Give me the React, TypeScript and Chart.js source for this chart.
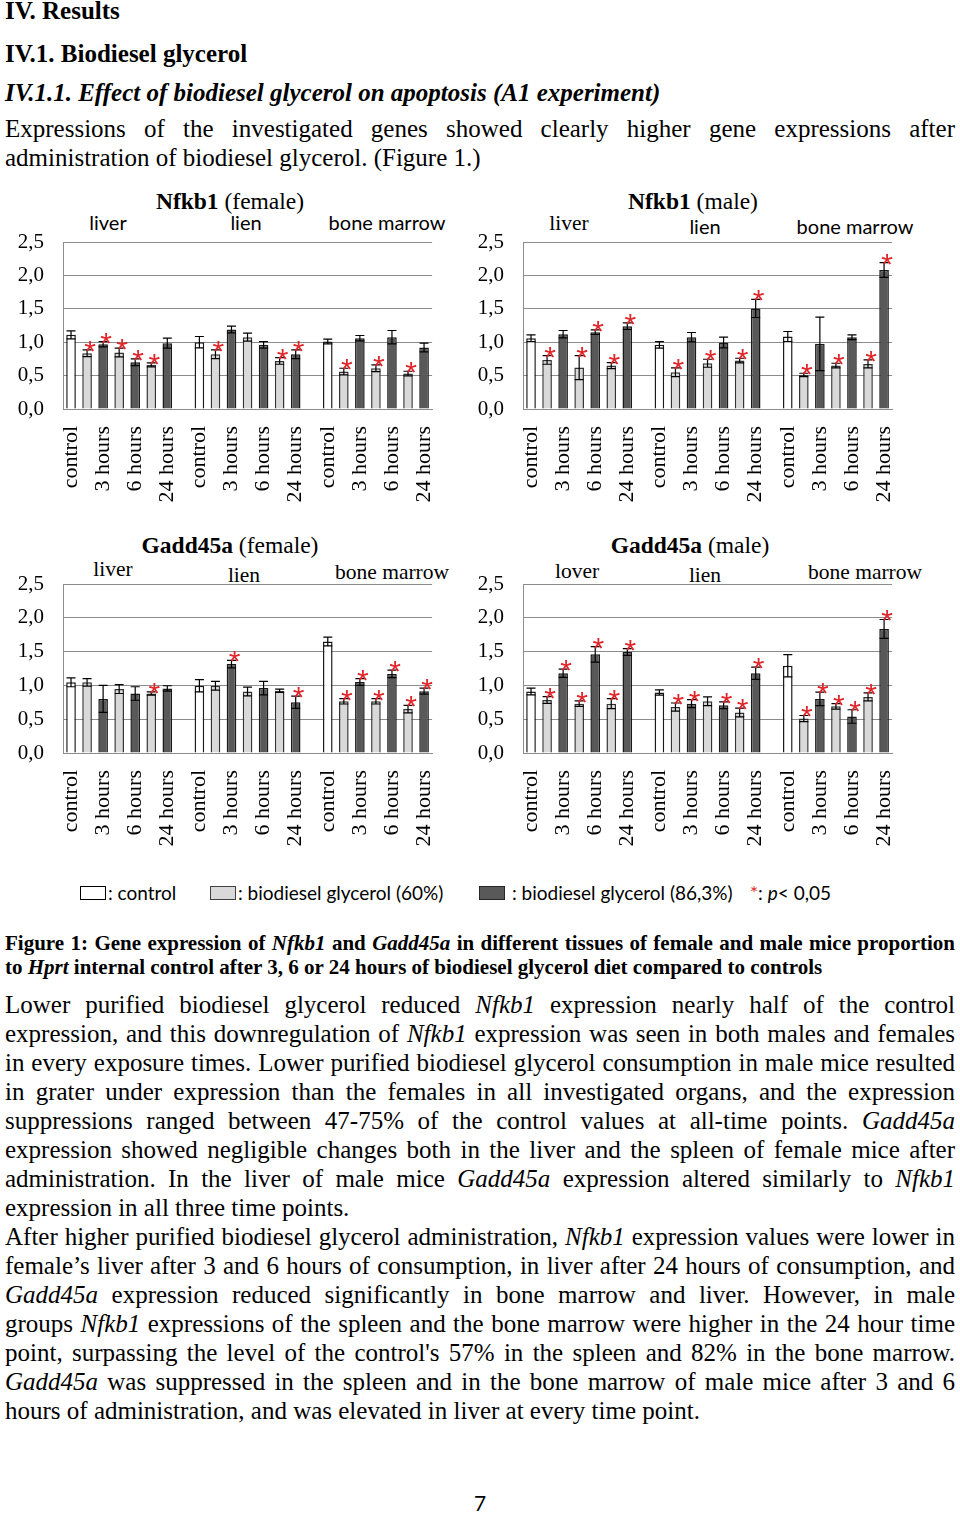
import React, { useEffect, useRef } from 'react';
import { Chart, registerables } from 'chart.js';
Chart.register(...registerables);

// ---------- data ----------
const groupSlotLabels = ['control', '', '3 hours', '', '6 hours', '', '24 hours'];
const groupTreatments = ['control', 'g60', 'g86', 'g60', 'g86', 'g60', 'g86'];
const organs = ['liver', 'lien', 'bone marrow'];

// order inside each organ: control, 3h 60%, 3h 86.3%, 6h 60%, 6h 86.3%, 24h 60%, 24h 86.3%
const nfkb1FemaleMeans = [1.11, 0.835, 0.97, 0.845, 0.70, 0.66, 0.985, 1.0, 0.82, 1.19, 1.075, 0.96, 0.72, 0.82, 1.01, 0.56, 1.06, 0.61, 1.075, 0.53, 0.92];
const nfkb1FemaleErrors = [0.06, 0.05, 0.04, 0.065, 0.05, 0.03, 0.075, 0.085, 0.065, 0.05, 0.06, 0.05, 0.05, 0.065, 0.035, 0.05, 0.04, 0.05, 0.1, 0.035, 0.065];
const nfkb1FemaleSig = [0, 1, 1, 1, 1, 1, 0, 0, 1, 0, 0, 0, 1, 1, 0, 1, 0, 1, 0, 1, 0];

const nfkb1MaleMeans = [1.06, 0.735, 1.12, 0.62, 1.15, 0.65, 1.24, 0.96, 0.55, 1.075, 0.685, 0.995, 0.725, 1.505, 1.085, 0.51, 0.975, 0.65, 1.075, 0.675, 2.08];
const nfkb1MaleErrors = [0.05, 0.065, 0.055, 0.18, 0.035, 0.045, 0.05, 0.05, 0.065, 0.07, 0.06, 0.08, 0.035, 0.135, 0.075, 0.025, 0.4, 0.035, 0.035, 0.06, 0.11];
const nfkb1MaleSig = [0, 1, 0, 1, 1, 1, 1, 0, 1, 0, 1, 0, 1, 1, 0, 1, 0, 1, 0, 1, 1];

const gadd45aFemaleMeans = [1.045, 1.045, 0.80, 0.945, 0.88, 0.88, 0.955, 0.995, 0.995, 1.315, 0.91, 0.96, 0.92, 0.75, 1.65, 0.765, 1.05, 0.765, 1.17, 0.65, 0.915];
const gadd45aFemaleErrors = [0.065, 0.055, 0.2, 0.065, 0.1, 0.025, 0.04, 0.09, 0.065, 0.055, 0.065, 0.1, 0.025, 0.09, 0.065, 0.04, 0.05, 0.04, 0.055, 0.055, 0.045];
const gadd45aFemaleSig = [0, 0, 0, 0, 0, 1, 0, 0, 0, 1, 0, 0, 0, 1, 0, 1, 1, 1, 1, 1, 1];

const gadd45aMaleMeans = [0.91, 0.785, 1.18, 0.73, 1.46, 0.73, 1.495, 0.895, 0.68, 0.73, 0.765, 0.705, 0.60, 1.18, 1.29, 0.51, 0.80, 0.69, 0.54, 0.83, 1.835];
const gadd45aMaleErrors = [0.05, 0.05, 0.06, 0.04, 0.115, 0.075, 0.05, 0.04, 0.06, 0.06, 0.065, 0.05, 0.065, 0.09, 0.165, 0.045, 0.1, 0.04, 0.1, 0.06, 0.14];
const gadd45aMaleSig = [0, 1, 1, 1, 1, 1, 1, 0, 1, 1, 0, 1, 1, 1, 0, 1, 1, 1, 1, 1, 1];

const yTickValues = [0, 0.5, 1, 1.5, 2, 2.5];

// ---------- styles ----------
const fillColors: Record<string, string> = { control: '#ffffff', g60: '#d9d9d9', g86: '#595959' };
const edgeColors: Record<string, string> = { control: '#1a1a1a', g60: '#333333', g86: '#1a1a1a' };
const SERIF = '"Liberation Serif", "Times New Roman", serif';
const SANS = 'Lato, "Liberation Sans", sans-serif';
const RED = '#e0262b';

// expand 21 values into 23 category slots (gap slot between organs)
function toSlots<T>(vals: T[], gap: T): T[] {
  const out: T[] = [];
  for (let g = 0; g < 3; g++) {
    for (let i = 0; i < 7; i++) out.push(vals[g * 7 + i]);
    if (g < 2) out.push(gap);
  }
  return out;
}
const repeat3 = <T,>(a: T[]) => [...a, ...a, ...a];

type PanelSpec = {
  means: number[];
  errors: number[];
  sig: number[];
  plotLeft: number;
  plotRight: number;
  plotTop: number;
  plotBottom: number;
};

function BarPanel({ spec }: { spec: PanelSpec }) {
  const ref = useRef<HTMLCanvasElement | null>(null);
  const Y_W = 63;
  const PAD_T = 34;
  const X_H = 100;
  const W = 460;
  const left = spec.plotLeft - Y_W;
  const top = spec.plotTop - PAD_T;
  const H = spec.plotBottom - top + X_H;

  useEffect(() => {
    if (!ref.current) return;
    const labels = toSlots(repeat3(groupSlotLabels), '');
    const data = toSlots<number | null>(spec.means, null);
    const errs = toSlots<number | null>(spec.errors, null);
    const sig = toSlots<number>(spec.sig, 0);
    const kinds = toSlots<string>(repeat3(groupTreatments), 'control');

    const errPlugin = {
      id: 'errAndSig',
      afterDatasetsDraw(chart: any) {
        const { ctx } = chart;
        const meta = chart.getDatasetMeta(0);
        const ys = chart.scales.y;
        ctx.save();
        meta.data.forEach((bar: any, i: number) => {
          const v = data[i];
          const e = errs[i];
          if (v == null || e == null) return;
          const x = bar.x;
          const yT = ys.getPixelForValue(v + e);
          const yB = ys.getPixelForValue(v - e);
          ctx.strokeStyle = '#000';
          ctx.lineWidth = 1.2;
          ctx.beginPath();
          ctx.moveTo(x, yT); ctx.lineTo(x, yB);
          ctx.moveTo(x - 4.5, yT); ctx.lineTo(x + 4.5, yT);
          ctx.moveTo(x - 4.5, yB); ctx.lineTo(x + 4.5, yB);
          ctx.stroke();
          if (sig[i]) {
            ctx.fillStyle = RED;
            ctx.font = '30px "Liberation Sans", sans-serif';
            ctx.textAlign = 'center';
            ctx.textBaseline = 'alphabetic';
            ctx.fillText('*', x + 3, yT + 11);
          }
        });
        ctx.restore();
      },
    };

    const chart = new Chart(ref.current, {
      type: 'bar',
      data: {
        labels,
        datasets: [
          {
            data,
            backgroundColor: kinds.map((k) => fillColors[k]),
            borderColor: kinds.map((k) => edgeColors[k]),
            borderWidth: 1.5,
            barPercentage: 0.6,
            categoryPercentage: 1.0,
          },
        ],
      },
      options: {
        responsive: false,
        animation: false,
        layout: { padding: { top: PAD_T, left: 0, bottom: 0, right: W - (spec.plotRight - left) } },
        plugins: { legend: { display: false }, tooltip: { enabled: false } },
        scales: {
          x: {
            afterFit: (s: any) => { s.height = X_H; },
            grid: { display: false },
            border: { display: true, color: '#8c8c8c', width: 1 },
            ticks: {
              autoSkip: false,
              minRotation: 90,
              maxRotation: 90,
              padding: 9,
              color: '#000',
              font: { family: SERIF, size: 22 },
            },
          },
          y: {
            min: 0,
            max: 2.5,
            afterFit: (s: any) => { s.width = Y_W; },
            afterBuildTicks: (s: any) => { s.ticks = yTickValues.map((v) => ({ value: v })); },
            grid: { color: '#8c8c8c', lineWidth: 1, drawTicks: false },
            border: { display: true, color: '#8c8c8c', width: 1 },
            ticks: {
              padding: 19,
              color: '#000',
              font: { family: SERIF, size: 21 },
              callback: (v: any) => Number(v).toFixed(1).replace('.', ','),
            },
          },
        },
      },
      plugins: [errPlugin],
    });
    return () => chart.destroy();
  }, []);

  return (
    <canvas
      ref={ref}
      width={W}
      height={H}
      style={{ position: 'absolute', left, top, width: W, height: H }}
    />
  );
}

function Label({ x, y, children, style }: any) {
  return (
    <div
      style={{
        position: 'absolute',
        left: x,
        top: y,
        transform: 'translate(-50%, -50%)',
        lineHeight: 1,
        whiteSpace: 'nowrap',
        ...style,
      }}
    >
      {children}
    </div>
  );
}

function Line({ top, children, justify = true, size = 25, lh = 29, bold = false, italic = false }: any) {
  return (
    <div
      style={{
        position: 'absolute',
        left: 5,
        width: 950,
        top,
        fontSize: size,
        lineHeight: lh + 'px',
        fontWeight: bold ? 'bold' : 'normal',
        fontStyle: italic ? 'italic' : 'normal',
        textAlign: justify ? 'justify' : 'left',
        textAlignLast: justify ? 'justify' : 'left',
      } as any}
    >
      {children}
    </div>
  );
}

const titleStyle = { fontFamily: SERIF, fontSize: 23.5 };
const serifLbl = { fontFamily: SERIF, fontSize: 21.5 };
const sansLbl = { fontFamily: SANS, fontSize: 20 };

function LegendBox({ x, fill, edge }: any) {
  return (
    <div
      style={{
        position: 'absolute',
        left: x,
        top: 886,
        width: 26,
        height: 14,
        background: fill,
        border: `1.5px solid ${edge}`,
        boxSizing: 'border-box',
      }}
    />
  );
}

const legendText = { position: 'absolute', top: 881, fontFamily: SANS, fontSize: 19, lineHeight: '24px', whiteSpace: 'nowrap' } as any;

export default function App() {
  const P0 = 990; // first line of results paragraph
  const L = 29;
  return (
    <div
      style={{
        position: 'absolute',
        left: 0,
        top: 0,
        width: 960,
        height: 1513,
        background: '#fff',
        color: '#000',
        fontFamily: SERIF,
        overflow: 'hidden',
      }}
    >
      <Line top={-4} bold justify={false}>IV. Results</Line>
      <Line top={39} bold justify={false}>IV.1. Biodiesel glycerol</Line>
      <Line top={78} bold italic justify={false}>IV.1.1. Effect of biodiesel glycerol on apoptosis (A1 experiment)</Line>
      <Line top={114}>Expressions of the investigated genes showed clearly higher gene expressions after</Line>
      <Line top={143} justify={false}>administration of biodiesel glycerol. (Figure 1.)</Line>

      {/* Nfkb1 female */}
      <Label x={230} y={202} style={titleStyle}><b>Nfkb1</b> (female)</Label>
      <Label x={108} y={222} style={sansLbl}>{organs[0]}</Label>
      <Label x={246} y={222} style={sansLbl}>{organs[1]}</Label>
      <Label x={387} y={222} style={sansLbl}>{organs[2]}</Label>
      <BarPanel spec={{ means: nfkb1FemaleMeans, errors: nfkb1FemaleErrors, sig: nfkb1FemaleSig, plotLeft: 63, plotRight: 435, plotTop: 242, plotBottom: 409 }} />

      {/* Nfkb1 male */}
      <Label x={693} y={202} style={titleStyle}><b>Nfkb1</b> (male)</Label>
      <Label x={569} y={224} style={serifLbl}>{organs[0]}</Label>
      <Label x={705} y={226} style={sansLbl}>{organs[1]}</Label>
      <Label x={855} y={226} style={sansLbl}>{organs[2]}</Label>
      <BarPanel spec={{ means: nfkb1MaleMeans, errors: nfkb1MaleErrors, sig: nfkb1MaleSig, plotLeft: 523, plotRight: 895, plotTop: 242, plotBottom: 409 }} />

      {/* Gadd45a female */}
      <Label x={230} y={546} style={titleStyle}><b>Gadd45a</b> (female)</Label>
      <Label x={113} y={570} style={serifLbl}>{organs[0]}</Label>
      <Label x={244} y={576} style={serifLbl}>{organs[1]}</Label>
      <Label x={392} y={573} style={serifLbl}>{organs[2]}</Label>
      <BarPanel spec={{ means: gadd45aFemaleMeans, errors: gadd45aFemaleErrors, sig: gadd45aFemaleSig, plotLeft: 63, plotRight: 435, plotTop: 584, plotBottom: 753 }} />

      {/* Gadd45a male */}
      <Label x={690} y={546} style={titleStyle}><b>Gadd45a</b> (male)</Label>
      <Label x={577} y={572} style={serifLbl}>lover</Label>
      <Label x={705} y={576} style={serifLbl}>{organs[1]}</Label>
      <Label x={865} y={573} style={serifLbl}>{organs[2]}</Label>
      <BarPanel spec={{ means: gadd45aMaleMeans, errors: gadd45aMaleErrors, sig: gadd45aMaleSig, plotLeft: 523, plotRight: 896, plotTop: 584, plotBottom: 753 }} />

      {/* legend */}
      <LegendBox x={80} fill={fillColors.control} edge="#000" />
      <div style={{ ...legendText, left: 108 }}>: control</div>
      <LegendBox x={210} fill={fillColors.g60} edge="#404040" />
      <div style={{ ...legendText, left: 238 }}>: biodiesel glycerol (60%)</div>
      <LegendBox x={479} fill={fillColors.g86} edge="#262626" />
      <div style={{ ...legendText, left: 512 }}>: biodiesel glycerol (86,3%)</div>
      <div style={{ ...legendText, left: 750 }}>
        <span style={{ color: RED }}>*</span>: <i>p</i>&lt; 0,05
      </div>

      {/* caption */}
      <Line top={931} size={21} lh={24} bold>
        Figure 1: Gene expression of <i>Nfkb1</i> and <i>Gadd45a</i> in different tissues of female and male mice proportion
      </Line>
      <Line top={955} size={21} lh={24} bold justify={false}>
        to <i>Hprt</i> internal control after 3, 6 or 24 hours of biodiesel glycerol diet compared to controls
      </Line>

      {/* results text */}
      <Line top={P0}>Lower purified biodiesel glycerol reduced <i>Nfkb1</i> expression nearly half of the control</Line>
      <Line top={P0 + L}>expression, and this downregulation of <i>Nfkb1</i> expression was seen in both males and females</Line>
      <Line top={P0 + 2 * L}>in every exposure times. Lower purified biodiesel glycerol consumption in male mice resulted</Line>
      <Line top={P0 + 3 * L}>in grater under expression than the females in all investigated organs, and the expression</Line>
      <Line top={P0 + 4 * L}>suppressions ranged between 47-75% of the control values at all-time points. <i>Gadd45a</i></Line>
      <Line top={P0 + 5 * L}>expression showed negligible changes both in the liver and the spleen of female mice after</Line>
      <Line top={P0 + 6 * L}>administration. In the liver of male mice <i>Gadd45a</i> expression altered similarly to <i>Nfkb1</i></Line>
      <Line top={P0 + 7 * L} justify={false}>expression in all three time points.</Line>
      <Line top={P0 + 8 * L}>After higher purified biodiesel glycerol administration, <i>Nfkb1</i> expression values were lower in</Line>
      <Line top={P0 + 9 * L}>female’s liver after 3 and 6 hours of consumption, in liver after 24 hours of consumption, and</Line>
      <Line top={P0 + 10 * L}><i>Gadd45a</i> expression reduced significantly in bone marrow and liver. However, in male</Line>
      <Line top={P0 + 11 * L}>groups <i>Nfkb1</i> expressions of the spleen and the bone marrow were higher in the 24 hour time</Line>
      <Line top={P0 + 12 * L}>point, surpassing the level of the control's 57% in the spleen and 82% in the bone marrow.</Line>
      <Line top={P0 + 13 * L}><i>Gadd45a</i> was suppressed in the spleen and in the bone marrow of male mice after 3 and 6</Line>
      <Line top={P0 + 14 * L} justify={false}>hours of administration, and was elevated in liver at every time point.</Line>

      <Label x={480} y={1502} style={{ fontFamily: SANS, fontSize: 21 }}>7</Label>
    </div>
  );
}
